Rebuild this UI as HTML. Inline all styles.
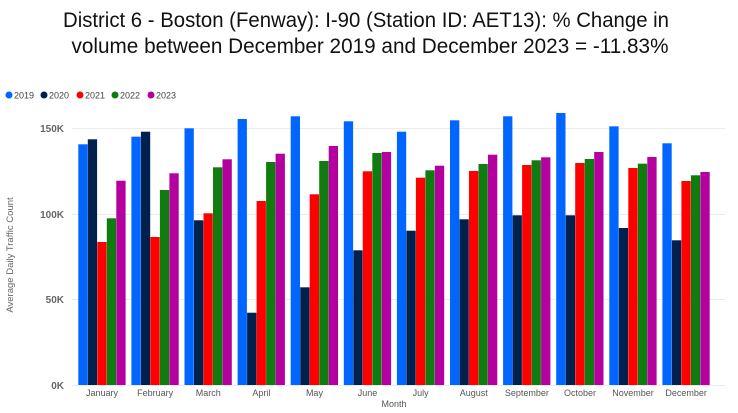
<!DOCTYPE html>
<html><head><meta charset="utf-8"><style>
html,body{margin:0;padding:0;background:#fff;}
svg{display:block;font-family:"Liberation Sans",sans-serif;}
</style></head><body>
<svg width="738" height="413" viewBox="0 0 738 413" xmlns="http://www.w3.org/2000/svg">
<rect width="738" height="413" fill="#fff"/>
<text x="366" y="27" font-size="21" text-anchor="middle" textLength="606" lengthAdjust="spacingAndGlyphs" fill="#111">District 6 - Boston (Fenway): I-90 (Station ID: AET13): % Change in</text>
<text x="370" y="53" font-size="21" text-anchor="middle" textLength="597" lengthAdjust="spacingAndGlyphs" fill="#111">volume between December 2019 and December 2023 = -11.83%</text>
<g font-size="9" fill="#444">
<circle cx="9" cy="95" r="3.5" fill="#0066ff"/><text x="14" y="98.5">2019</text>
<circle cx="44" cy="95" r="3.5" fill="#00204e"/><text x="49" y="98.5">2020</text>
<circle cx="80" cy="95" r="3.5" fill="#ff0000"/><text x="85" y="98.5">2021</text>
<circle cx="115" cy="95" r="3.5" fill="#107c10"/><text x="120" y="98.5">2022</text>
<circle cx="151" cy="95" r="3.5" fill="#b4009e"/><text x="156" y="98.5">2023</text>
</g>
<g stroke="#ececec" stroke-width="1">
<line x1="72" x2="725" y1="128.5" y2="128.5"/>
<line x1="72" x2="725" y1="214.5" y2="214.5"/>
<line x1="72" x2="725" y1="299.5" y2="299.5"/>
<line x1="72" x2="725" y1="385.5" y2="385.5"/>
</g>
<g font-size="10" font-weight="bold" fill="#666" text-anchor="end">
<text x="64" y="132">150K</text>
<text x="64" y="218">100K</text>
<text x="64" y="303">50K</text>
<text x="64" y="389">0K</text>
</g>
<text transform="translate(13,255) rotate(-90)" font-size="9.5" fill="#666" text-anchor="middle">Average Daily Traffic Count</text>
<g id="bars"></g>
<g font-size="9" fill="#555" text-anchor="middle" id="labels"></g>
<text x="394" y="407" font-size="9" fill="#555" text-anchor="middle">Month</text>
<script>
var tops=[[144.3,139.3,242,218.3,180.7],[136.7,131.7,237,190,173.3],[128.3,220.3,213.3,167.3,159.3],[119,312.7,201,162,153.7],[116.3,287.3,194.3,161,146],[121.3,250.3,171.3,153,152],[131.7,230.7,177.7,170.3,165.7],[120.3,219.3,171,164,154.7],[116.3,215.3,165,160.3,157.3],[113,215.3,163,159,152],[126.3,228,168,163.7,157],[143.3,240.3,181,175.3,172]];
var cols=["#0066ff","#00204e","#ff0000","#107c10","#b4009e"];
var months=["January","February","March","April","May","June","July","August","September","October","November","December"];
var ns="http://www.w3.org/2000/svg",b=document.getElementById("bars"),l=document.getElementById("labels");
for(var i=0;i<12;i++){var x0=78.3+i*53.1;
for(var j=0;j<5;j++){var r=document.createElementNS(ns,"rect");r.setAttribute("x",x0+j*9.5);r.setAttribute("y",tops[i][j]);r.setAttribute("width",9.3);r.setAttribute("height",385-tops[i][j]);r.setAttribute("fill",cols[j]);b.appendChild(r);}
var t=document.createElementNS(ns,"text");t.setAttribute("x",x0+23.75);t.setAttribute("y",396);t.textContent=months[i];l.appendChild(t);}
</script>
</svg>
</body></html>
